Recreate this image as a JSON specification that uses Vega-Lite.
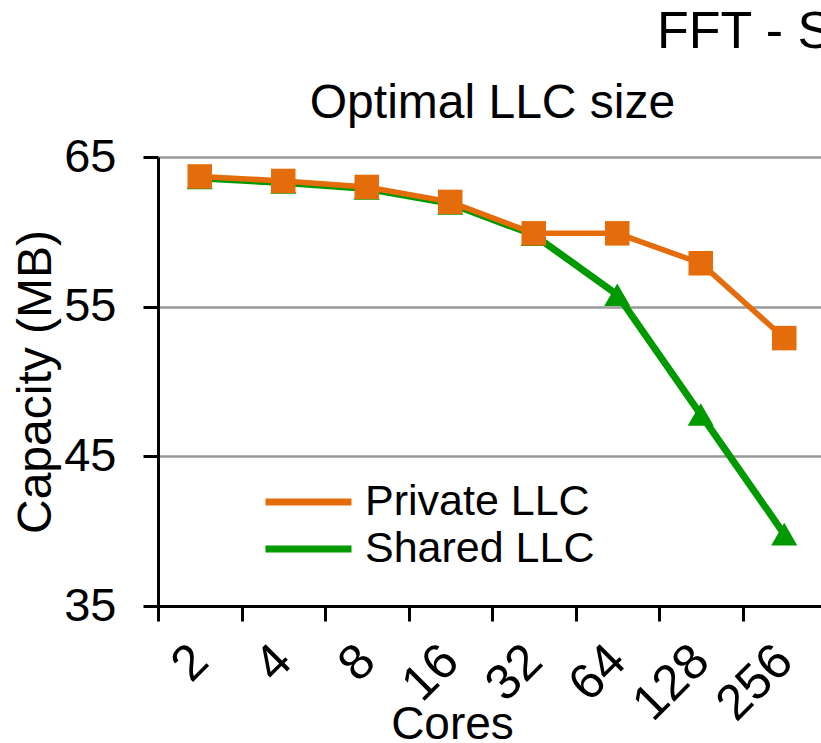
{
  "$schema": "https://vega.github.io/schema/vega-lite/v6.json",
  "width": 668,
  "height": 449,
  "autosize": {"type": "none"},
  "padding": {"left": 158, "top": 157, "right": 0, "bottom": 137},
  "background": "white",
  "config": {"font": "Liberation Sans", "view": {"stroke": null}},
  "title": {"text": "FFT - S", "anchor": "start", "frame": "group", "dx": 499, "fontSize": 52, "fontWeight": "normal", "color": "black", "offset": 20},
  "data": {"values": [
    {"cores": "2", "series": "Private LLC", "cap": 63.7},
    {"cores": "4", "series": "Private LLC", "cap": 63.4},
    {"cores": "8", "series": "Private LLC", "cap": 63.0},
    {"cores": "16", "series": "Private LLC", "cap": 62.0},
    {"cores": "32", "series": "Private LLC", "cap": 59.9},
    {"cores": "64", "series": "Private LLC", "cap": 59.9},
    {"cores": "128", "series": "Private LLC", "cap": 57.9},
    {"cores": "256", "series": "Private LLC", "cap": 52.9},
    {"cores": "2", "series": "Shared LLC", "cap": 63.6},
    {"cores": "4", "series": "Shared LLC", "cap": 63.3},
    {"cores": "8", "series": "Shared LLC", "cap": 62.9},
    {"cores": "16", "series": "Shared LLC", "cap": 61.9},
    {"cores": "32", "series": "Shared LLC", "cap": 59.8},
    {"cores": "64", "series": "Shared LLC", "cap": 55.8},
    {"cores": "128", "series": "Shared LLC", "cap": 47.8},
    {"cores": "256", "series": "Shared LLC", "cap": 39.8}
  ]},
  "resolve": {"axis": {"x": "independent"}},
  "layer": [
    {
      "transform": [{"filter": "datum.series == 'Shared LLC'"}],
      "mark": {"type": "line", "strokeWidth": 7},
      "encoding": {
        "x": {"field": "cores", "type": "ordinal", "sort": null,
          "scale": {"type": "band", "paddingInner": 0, "paddingOuter": 0},
          "axis": {"title": "Cores", "tickBand": "extent", "labelAngle": -45, "labelBaseline": "middle", "labelFontSize": 50, "labelPadding": 32, "labelColor": "black",
            "domainColor": "black", "domainWidth": 3, "tickColor": "black", "tickWidth": 3, "tickSize": 15, "grid": false,
            "titleFontSize": 46, "titleFontWeight": "normal", "titleColor": "black", "titleX": 294, "titleY": 132, "titleBaseline": "alphabetic"}},
        "y": {"field": "cap", "type": "quantitative",
          "scale": {"domain": [35, 65], "nice": false, "zero": false},
          "axis": {"title": "Capacity (MB)", "values": [35, 45, 55, 65], "domainColor": "black", "domainWidth": 3, "tickColor": "black", "tickWidth": 3, "tickSize": 15,
            "labelFontSize": 47, "labelColor": "black", "labelPadding": 27, "grid": true, "gridColor": "#999999", "gridWidth": 2.5,
            "titleFontSize": 48, "titleFontWeight": "normal", "titleColor": "black", "titlePadding": 3}},
        "color": {"field": "series", "type": "nominal",
          "scale": {"domain": ["Private LLC", "Shared LLC"], "range": ["#E46C0A", "#009900"]},
          "legend": {"orient": "none", "legendX": 125.5, "legendY": 320, "title": null, "symbolType": "M-2,0L2,0", "symbolSize": 1849, "symbolStrokeWidth": 7,
            "labelFontSize": 43, "labelOffset": 31.5, "labelColor": "black", "labelLimit": 0, "rowPadding": -6}}
      }
    },
    {
      "transform": [{"filter": "datum.series == 'Private LLC'"}],
      "mark": {"type": "line", "strokeWidth": 5.5},
      "encoding": {
        "x": {"field": "cores", "type": "ordinal", "sort": null, "axis": null},
        "y": {"field": "cap", "type": "quantitative"},
        "color": {"field": "series", "type": "nominal"}
      }
    },
    {
      "transform": [{"filter": "datum.series == 'Shared LLC'"}],
      "mark": {"type": "point", "shape": "triangle-up", "size": 680, "filled": true, "opacity": 1, "color": "#009900"},
      "encoding": {
        "x": {"field": "cores", "type": "ordinal", "sort": null,
          "axis": {"orient": "top", "title": "Optimal LLC size", "labels": false, "ticks": false, "domain": false, "grid": false,
            "titleFontSize": 48, "titleFontWeight": "normal", "titleColor": "black", "titleY": -40, "titleBaseline": "alphabetic"}},
        "y": {"field": "cap", "type": "quantitative"}
      }
    },
    {
      "transform": [{"filter": "datum.series == 'Private LLC'"}],
      "mark": {"type": "point", "shape": "square", "size": 600, "filled": true, "opacity": 1, "color": "#E46C0A"},
      "encoding": {
        "x": {"field": "cores", "type": "ordinal", "sort": null, "axis": null},
        "y": {"field": "cap", "type": "quantitative"}
      }
    }
  ]
}
